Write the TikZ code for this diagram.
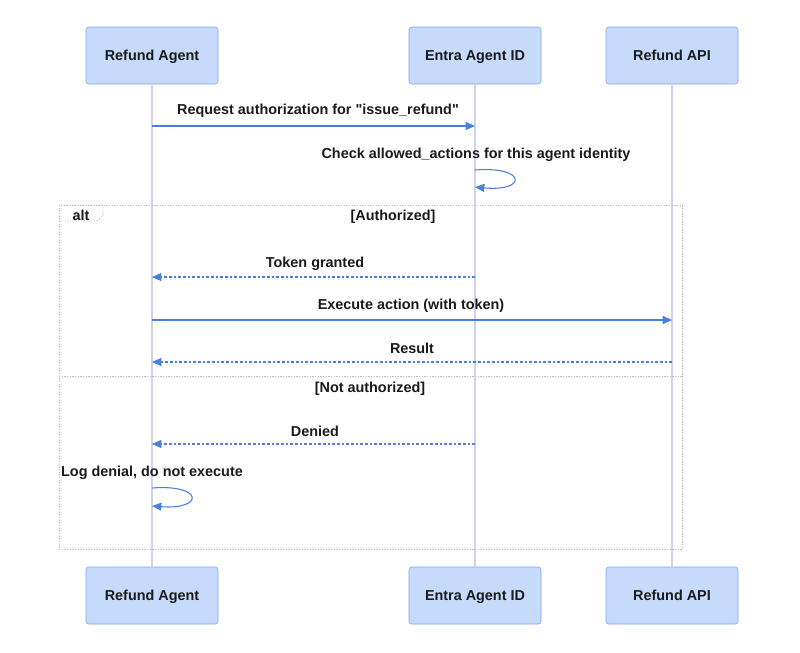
\documentclass[tikz,border=0pt]{standalone}
\usepackage{fontspec}
\setmainfont{Liberation Sans}[Ligatures=TeXOff]
\usepackage{tikz}
\usetikzlibrary{positioning,calc,arrows.meta}
\definecolor{boxfill}{HTML}{C6DBFB}
\definecolor{boxline}{HTML}{7FA5E8}
\definecolor{lifeline}{HTML}{D3D1F0}
\definecolor{msgblue}{HTML}{4A7FE0}
\definecolor{framegrey}{HTML}{BDBDBD}
\definecolor{txt}{HTML}{1A1A1A}

\begin{document}
\begin{tikzpicture}[x=0.75pt, y=-0.75pt,
    font=\fontsize{10.8pt}{13pt}\selectfont\bfseries, text=txt,
    actor/.style={draw=boxline, fill=boxfill, rounded corners=2pt, minimum width=99pt, minimum height=42.75pt, text depth=0.5pt},
    life/.style={draw=lifeline, line width=0.9pt},
    msg/.style={draw=msgblue, line width=0.8pt, -{Triangle[length=7pt,width=6pt]}},
    reply/.style={msg, dash pattern=on 2pt off 1.5pt},
    frameline/.style={draw=framegrey, line width=0.7pt, dash pattern=on 1pt off 1pt},
    lbl/.style={inner sep=0pt}]
    \useasboundingbox (0,0) rectangle (800,653);

    % Participants
    \node[actor] (agentT) at (152,55.5) {Refund Agent};
    \node[actor] (entraT) at (475,55.5) {Entra Agent ID};
    \node[actor] (apiT) at (672,55.5) {Refund API};
    \node[actor] (agentB) at (152,595.5) {Refund Agent};
    \node[actor] (entraB) at (475,595.5) {Entra Agent ID};
    \node[actor] (apiB) at (672,595.5) {Refund API};

    % Lifelines
    \draw[life] (agentT) -- (agentB);
    \draw[life] (entraT) -- (entraB);
    \draw[life] (apiT) -- (apiB);

    % Alt frame
    \draw[frameline] (59,205) rectangle (682,549);
    \draw[frameline] (59,205) -- (103,205) -- (103,215) -- (97,221) -- (59,221);
    \node[lbl] (alt) at (81,215) {alt};
    \node[lbl] (authz) at (393,217) {[Authorized]};
    \draw[frameline] (59,376) -- (682,376);
    \node[lbl] (notauthz) at (370,389) {[Not authorized]};

    % Request
    \coordinate (a1) at (152,126);
    \coordinate (e1) at (475,126);
    \draw[msg] (a1) -- (e1);
    \node[lbl] (req) at (318,111) {Request authorization for "issue\_refund"};

    % Check (self call)
    \coordinate (e2) at (475,170);
    \coordinate (e3) at (475,187);
    \node[lbl] (check) at (476,155) {Check allowed\_actions for this agent identity};
    \draw[msg] (e2) .. controls (527,166) and (527,192) .. (e3);

    % Authorized branch
    \coordinate (e4) at (475,277);
    \coordinate (a4) at (152,277);
    \draw[reply] (e4) -- (a4);
    \node[lbl] (granted) at (315,264) {Token granted};

    \coordinate (a5) at (152,320);
    \coordinate (p5) at (672,320);
    \draw[msg] (a5) -- (p5);
    \node[lbl] (exec) at (411,306) {Execute action (with token)};

    \coordinate (p6) at (672,362);
    \coordinate (a6) at (152,362);
    \draw[reply] (p6) -- (a6);
    \node[lbl] (result) at (412,348) {Result};

    % Not authorized branch
    \coordinate (e7) at (475,444);
    \coordinate (a7) at (152,444);
    \draw[reply] (e7) -- (a7);
    \node[lbl] (denied) at (315,431) {Denied};

    \coordinate (a8) at (152,488);
    \coordinate (a9) at (152,506);
    \node[lbl] (logden) at (152,473) {Log denial, do not execute};
    \draw[msg] (a8) .. controls (204,484) and (204,510) .. (a9);
\end{tikzpicture}
\end{document}
